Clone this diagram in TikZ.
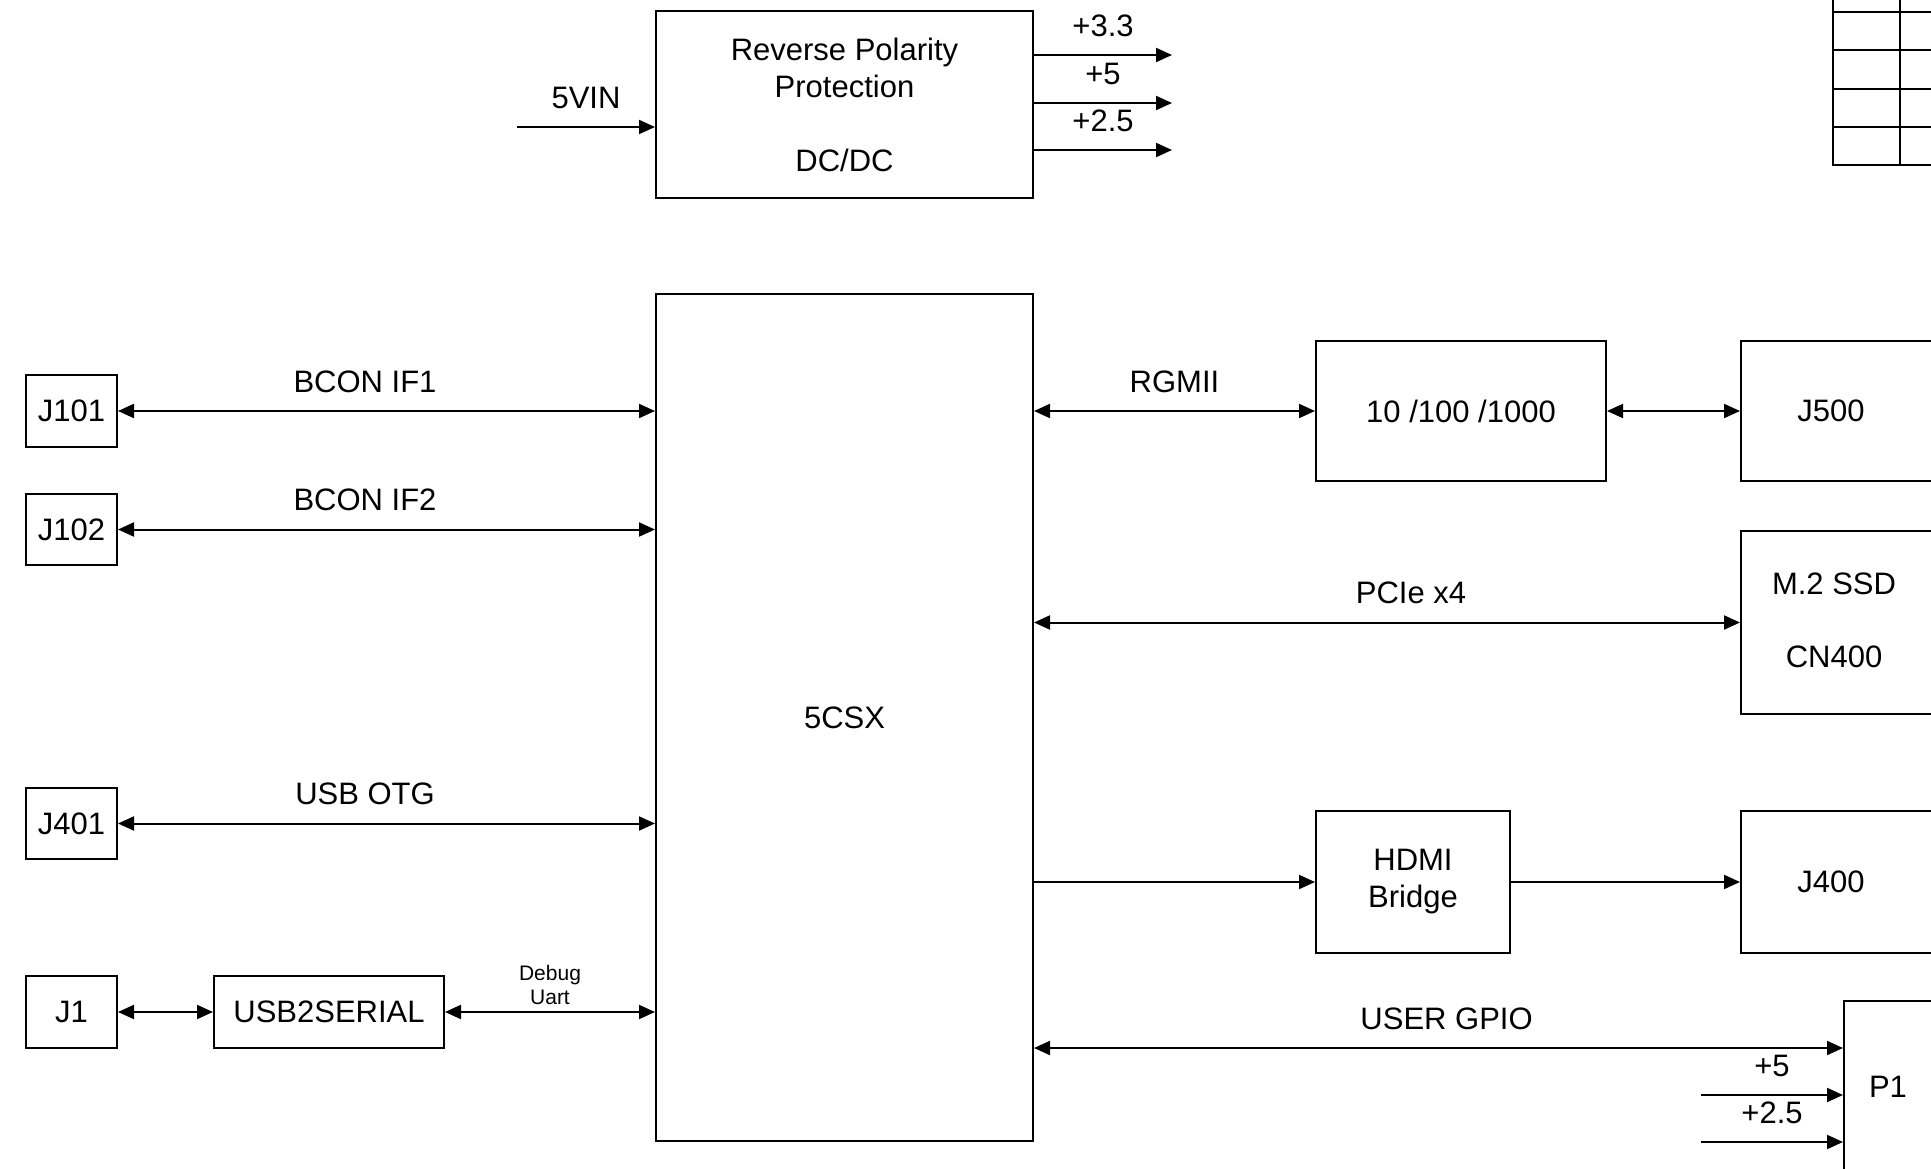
\documentclass[tikz,border=0pt]{standalone}
\usepackage{fontspec}
\setmainfont{Liberation Sans}
\usetikzlibrary{arrows.meta,calc}

\begin{document}
\begin{tikzpicture}[x=1pt,y=-1pt,line width=2pt,
	>={Triangle[length=16pt,width=14pt]},
	every node/.style={font=\fontsize{31}{37}\selectfont,align=center},
	blk/.style={draw,line width=2pt,anchor=north west,inner sep=0pt},
	sig/.style={above=14pt,pos=#1},
	sig/.default=0.5,
	small/.style={font=\fontsize{21}{24}\selectfont}]
	\clip (0,0) rectangle (1931,1169);
	% power
	\node[blk,minimum width=377pt,minimum height=187pt] (pwr) at (655,10)
		{Reverse Polarity\\Protection\\[37pt]DC/DC};
	\coordinate (vin) at (517,127);
	\coordinate (o33) at (1172,55);
	\coordinate (o5) at (1172,103);
	\coordinate (o25) at (1172,150);
	\draw[->] (vin) -- node[sig] {5VIN} (vin -| pwr.west);
	\draw[->] (o33 -| pwr.east) -- node[sig] {+3.3} (o33);
	\draw[->] (o5 -| pwr.east) -- node[sig] {+5} (o5);
	\draw[->] (o25 -| pwr.east) -- node[sig] {+2.5} (o25);
	% table corner
	\draw[line width=1.5pt] (1833,0) -- (1833,165) -- (1940,165)
		(1900,0) -- (1900,165);
	\foreach \y in {12,50,89,127}
		\draw[line width=1.5pt] (1833,\y) -- (1940,\y);
	% fpga
	\node[blk,minimum width=377pt,minimum height=847pt] (cpu) at (655,293) {5CSX};
	% left side
	\node[blk,minimum width=91pt,minimum height=72pt] (j101) at (25,374) {J101};
	\node[blk,minimum width=91pt,minimum height=71pt] (j102) at (25,493) {J102};
	\node[blk,minimum width=91pt,minimum height=71pt] (j401) at (25,787) {J401};
	\node[blk,minimum width=91pt,minimum height=72pt] (j1) at (25,975) {J1};
	\node[blk,minimum width=230pt,minimum height=72pt] (usbser) at (213,975) {USB2SERIAL};
	\draw[<->] (j101) -- node[sig=0.46] {BCON IF1} (j101 -| cpu.west);
	\draw[<->] (j102) -- node[sig=0.46] {BCON IF2} (j102 -| cpu.west);
	\draw[<->] (j401) -- node[sig=0.46] {USB OTG} (j401 -| cpu.west);
	\draw[<->] (j1) -- (usbser);
	\draw[<->] (usbser) -- node[small,above=3pt] {Debug\\Uart} (usbser -| cpu.west);
	% right side
	\node[blk,minimum width=290pt,minimum height=140pt] (phy) at (1315,340) {10 /100 /1000};
	\node[blk,minimum width=230pt,minimum height=140pt] (j500) at (1740,340) {};
	\node at ([xshift=91pt]j500.west) {J500};
	\node[blk,minimum width=230pt,minimum height=183pt] (ssd) at (1740,530) {};
	\node at ([xshift=94pt,yshift=2pt]ssd.west) {M.2 SSD\\[36pt]CN400};
	\node[blk,minimum width=194pt,minimum height=142pt] (hdmi) at (1315,810) {HDMI\\Bridge};
	\node[blk,minimum width=230pt,minimum height=142pt] (j400) at (1740,810) {};
	\node at ([xshift=91pt]j400.west) {J400};
	\node[blk,minimum width=120pt,minimum height=220pt] (p1) at (1843,1000) {};
	\node at (1888,1087) {P1};
	\draw[<->] (cpu.east |- phy) -- node[sig] {RGMII} (phy);
	\draw[<->] (phy) -- (j500);
	\draw[<->] (cpu.east |- ssd) -- node[sig=0.534] {PCIe x4} (ssd);
	\draw[->] (cpu.east |- hdmi) -- (hdmi);
	\draw[->] (hdmi) -- (j400);
	\coordinate (gpio) at ([yshift=-48pt]p1.north west);
	\coordinate (in5) at (1701,1095);
	\coordinate (in25) at (1701,1142);
	\draw[<->] (cpu.east |- gpio) -- node[sig=0.51] {USER GPIO} (gpio);
	\draw[->] (in5) -- node[sig] {+5} (in5 -| p1.west);
	\draw[->] (in25) -- node[sig] {+2.5} (in25 -| p1.west);
\end{tikzpicture}
\end{document}
